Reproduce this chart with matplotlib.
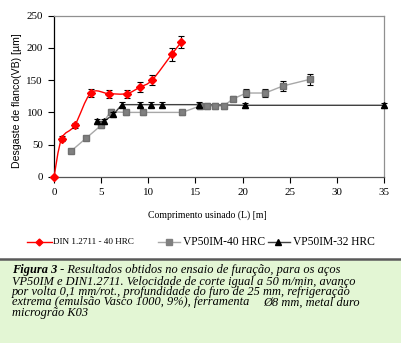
import numpy as np
import matplotlib
matplotlib.use("Agg")
import matplotlib.pyplot as plt
from matplotlib.path import Path
from matplotlib.patches import PathPatch, Rectangle
from matplotlib.lines import Line2D

# ---------------- data ----------------
din_x = [0, 0.8, 2.2, 3.9, 5.8, 7.7, 9.1, 10.4, 12.5, 13.5]
din_y = [0, 59, 80, 130, 129, 129, 139, 150, 190, 209]
din_err = [0, 4, 4, 6, 6, 6, 8, 8, 10, 10]

vp40_x = [1.8, 3.4, 5.0, 6.0, 7.6, 9.4, 13.6, 15.5, 16.2, 17.1, 18.0, 19.0, 20.4, 22.4, 24.3, 27.1]
vp40_y = [40, 60, 80, 101, 100, 100, 100, 110, 110, 110, 110, 121, 130, 130, 141, 151]
vp40_err = [0, 2, 4, 4, 4, 4, 4, 4, 4, 4, 4, 4, 6, 6, 8, 8]

vp32_x = [4.6, 5.3, 6.3, 7.2, 9.1, 10.3, 11.5, 15.4, 20.3, 35.0]
vp32_y = [86, 86, 97, 112, 112, 112, 112, 112, 111, 111]
vp32_err = [4, 4, 4, 4, 4, 4, 4, 4, 4, 4]

x_ticks = [0, 5, 10, 15, 20, 25, 30, 35]
y_ticks = [0, 50, 100, 150, 200, 250]

legend_labels = ["DIN 1.2711 - 40 HRC", "VP50IM-40 HRC", "VP50IM-32 HRC"]
x_label = "Comprimento usinado (L) [m]"
y_label = "Desgaste de flanco(VB) [µm]"
caption_head = "Figura 3"
caption_lines = [
    "Resultados obtidos no ensaio de furação, para os aços",
    "VP50IM e DIN1.2711. Velocidade de corte igual a 50 m/min, avanço",
    "por volta 0,1 mm/rot., profundidade do furo de 25 mm, refrigeração",
    "extrema (emulsão Vasco 1000, 9%), ferramenta",
    "microgrão K03",
]
caption_line4_tail = "Ø8 mm, metal duro"

# ---------------- figure ----------------
W, H = 401, 350
fig = plt.figure(figsize=(W / 100, H / 100), dpi=100)
fig.patch.set_facecolor("white")

def fx(px):
    return px / W

def fy(py):
    return 1 - py / H

serif = ["Liberation Serif", "DejaVu Serif"]
sans = ["Liberation Sans", "DejaVu Sans"]

ax = fig.add_axes([fx(54), fy(177), fx(384) - fx(54), fy(15.5) - fy(177)])
ax.set_xlim(0, 35)
ax.set_ylim(0, 250)
ax.set_xticks(x_ticks)
ax.set_yticks(y_ticks)
for lab in ax.get_xticklabels() + ax.get_yticklabels():
    lab.set_fontfamily(serif)
    lab.set_fontsize(7.9)
ax.tick_params(axis="both", direction="out", length=4, width=0.8, color="black", pad=4)
ax.spines["left"].set_color("black")
ax.spines["bottom"].set_color("#555555")
ax.spines["top"].set_color("#909090")
ax.spines["right"].set_color("#909090")
for s in ax.spines.values():
    s.set_linewidth(0.9)

ax.set_ylabel(y_label, fontfamily=sans, fontsize=7.6)
ax.yaxis.set_label_coords(-0.098, 0.47)

# smoothed red line (Bezier through the data points)
pts = np.column_stack([din_x, din_y]).astype(float)
n = len(pts)
verts = [pts[0]]
codes = [Path.MOVETO]
for i in range(n - 1):
    p0 = pts[i - 1] if i > 0 else pts[i]
    p1 = pts[i]
    p2 = pts[i + 1]
    p3 = pts[i + 2] if i + 2 < n else pts[i + 1]
    c1 = p1 + (p2 - p0) / 6.0
    c2 = p2 - (p3 - p1) / 6.0
    verts += [c1, c2, p2]
    codes += [Path.CURVE4] * 3
ax.add_patch(PathPatch(Path(verts, codes), facecolor="none", edgecolor="red", lw=1.0, zorder=3))

# grey series
ax.plot(vp40_x, vp40_y, color="#a8a8a8", lw=1.0, zorder=2)
ax.errorbar(vp40_x, vp40_y, yerr=vp40_err, fmt="s", ms=4.5, color="#808080",
            mec="#707070", ecolor="black", elinewidth=0.8, capsize=2.5, capthick=0.8, zorder=4)

# black series
ax.plot(vp32_x, vp32_y, color="#404040", lw=1.0, zorder=2)
ax.errorbar(vp32_x, vp32_y, yerr=vp32_err, fmt="^", ms=5, color="black",
            ecolor="black", elinewidth=0.8, capsize=2.5, capthick=0.8, zorder=5, clip_on=False)

# red markers
ax.errorbar(din_x, din_y, yerr=din_err, fmt="D", ms=4, color="red", mec="red",
            ecolor="black", elinewidth=0.8, capsize=2.5, capthick=0.8, zorder=6, clip_on=False)

# x label
fig.text(fx(207), fy(215), x_label, fontfamily=serif, fontsize=7.0, ha="center", va="center")

# legend (manual)
ly = fy(242)
entries = [
    (27, 52, 39, "red", "#ff0000", "D", 3.5, 53, 6.6, legend_labels[0]),
    (158, 180, 169, "#a8a8a8", "#808080", "s", 4, 183, 8.3, legend_labels[1]),
    (268, 290, 278, "#404040", "black", "^", 4.5, 293, 8.3, legend_labels[2]),
]
for x0, x1, xm, lc, mc, mk, ms, xt, fs, lab in entries:
    fig.add_artist(Line2D([fx(x0), fx(x1)], [ly, ly], color=lc, lw=1.0, transform=fig.transFigure))
    fig.add_artist(Line2D([fx(xm)], [ly], marker=mk, ms=ms, color=mc, mec=mc, lw=0,
                          transform=fig.transFigure))
    fig.text(fx(xt), ly, lab, fontfamily=serif, fontsize=fs, ha="left", va="center")

# caption box
fig.add_artist(Rectangle((0, fy(343)), 1, fy(260) - fy(343), transform=fig.transFigure,
                         facecolor="#e3f6d4", edgecolor="none", zorder=0))
fig.add_artist(Line2D([0, 1], [fy(259), fy(259)], color="#5a5a5a", lw=1.8, transform=fig.transFigure))

cap_fs = 8.9
line_y = [270.5, 281.5, 292, 302.5, 313]
head = fig.text(fx(12), fy(line_y[0]), caption_head, fontfamily=serif, fontsize=cap_fs,
                style="italic", weight="bold", ha="left", va="center")
fig.canvas.draw()
bb = head.get_window_extent()
fig.text(bb.x1 / W, fy(line_y[0]), " - " + caption_lines[0], fontfamily=serif, fontsize=cap_fs,
         style="italic", ha="left", va="center")
for i in range(1, 5):
    fig.text(fx(12), fy(line_y[i]), caption_lines[i], fontfamily=serif, fontsize=cap_fs,
             style="italic", ha="left", va="center")
fig.text(fx(263), fy(line_y[3]), caption_line4_tail, fontfamily=serif, fontsize=cap_fs,
         style="italic", ha="left", va="center")

fig.savefig("out.png", dpi=100)
